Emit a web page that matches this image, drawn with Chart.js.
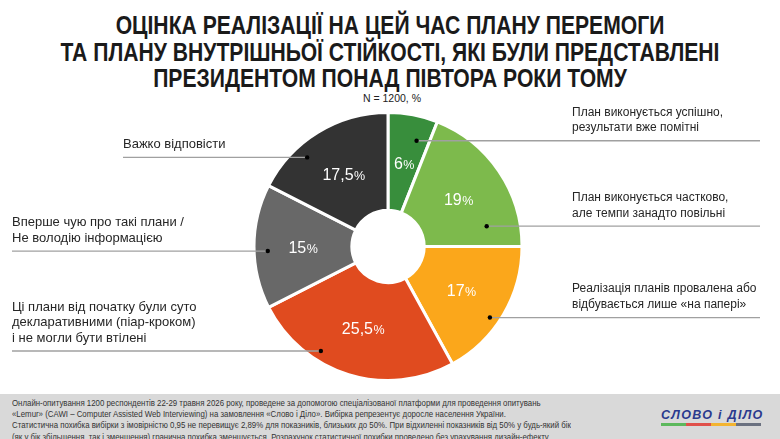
<!DOCTYPE html>
<html lang="uk">
<head>
    <meta charset="UTF-8">
    <title>Оцінка реалізації плану перемоги</title>
    <style>
        body {
            margin: 0;
            width: 780px;
            height: 439px;
            background: #fff;
            font-family: "Liberation Sans", Arial, sans-serif;
            position: relative;
            overflow: hidden;
        }
        .title {
            position: absolute;
            top: 12px;
            left: 0;
            width: 780px;
            text-align: center;
            font-weight: bold;
            font-size: 25px;
            line-height: 26.5px;
            color: #1a1a1a;
            white-space: nowrap;
            transform: scaleX(0.845);
            transform-origin: 390px 0;
        }
        .subtitle {
            position: absolute;
            top: 92px;
            left: 2px;
            width: 780px;
            text-align: center;
            font-size: 10.5px;
            color: #222;
        }
        #chartBox {
            position: absolute;
            top: 0;
            left: 0;
            width: 780px;
            height: 393px;
        }
        .footer {
            position: absolute;
            top: 394px;
            left: 0;
            width: 780px;
            height: 45px;
            background: #d9d9d9;
        }
        .footer .note {
            position: absolute;
            left: 12px;
            top: 4px;
            font-size: 9px;
            line-height: 11.2px;
            color: #333;
            white-space: nowrap;
            transform: scaleX(0.872);
            transform-origin: 0 0;
        }
        .logo {
            position: absolute;
            left: 661px;
            top: 15px;
            font-size: 12.5px;
            font-weight: bold;
            font-style: italic;
            color: #2a3a8e;
            letter-spacing: 1.3px;
            line-height: 12px;
            white-space: nowrap;
        }
        .logo-bars {
            position: absolute;
            left: 661px;
            top: 29px;
            display: flex;
        }
        .logo-bars span {
            width: 25px;
            height: 2.5px;
        }
    </style>
</head>
<body>
    <div class="title">ОЦІНКА РЕАЛІЗАЦІЇ НА ЦЕЙ ЧАС ПЛАНУ ПЕРЕМОГИ<br>ТА ПЛАНУ ВНУТРІШНЬОЇ СТІЙКОСТІ, ЯКІ БУЛИ ПРЕДСТАВЛЕНІ<br>ПРЕЗИДЕНТОМ ПОНАД ПІВТОРА РОКИ ТОМУ</div>
    <div class="subtitle">N = 1200, %</div>
    <div id="chartBox"><canvas id="pieChart"></canvas></div>
    <div class="footer">
        <div class="note">
            Онлайн-опитування 1200 респондентів 22-29 травня 2026 року, проведене за допомогою спеціалізованої платформи для проведення опитувань<br>
            «Lemur» (CAWI – Computer Assisted Web Interviewing) на замовлення «Слово і Діло». Вибірка репрезентує доросле населення України.<br>
            Статистична похибка вибірки з імовірністю 0,95 не перевищує 2,89% для показників, близьких до 50%. При відхиленні показників від 50% у будь-який бік<br>
            (як у бік збільшення, так і зменшення) гранична похибка зменшується. Розрахунок статистичної похибки проведено без урахування дизайн-ефекту.
        </div>
        <div class="logo">СЛОВО і ДІЛО</div>
        <div class="logo-bars">
            <span style="background:#5cb85c"></span>
            <span style="background:#e0504a"></span>
            <span style="background:#f3b431"></span>
            <span style="background:#6b7180"></span>
        </div>
    </div>

    <script src="https://cdn.jsdelivr.net/npm/chart.js"></script>
    <script>
        // data, clockwise from the top
        const categories = [
            ['План виконується успішно,', 'результати вже помітні'],
            ['План виконується частково,', 'але темпи занадто повільні'],
            ['Реалізація планів провалена або', 'відбувається лише «на папері»'],
            ['Ці плани від початку були суто', 'декларативними (піар-кроком)', 'і не могли бути втілені'],
            ['Вперше чую про такі плани /', 'Не володію інформацією'],
            ['Важко відповісти']
        ];
        const values = [6, 19, 17, 25.5, 15, 17.5];
        const colors = ['#388e3c', '#7dba4c', '#fba71b', '#e04b1f', '#686868', '#333333'];

        // where the leader dot sits inside each slice (fraction of angle, fraction of ring)
        // and where the label text goes
        const leaders = [
            { a: 0.70, r: 0.75, side: 'right', textX: 572, lineEnd: 760, size: 12 },
            { a: 0.83, r: 0.66, side: 'right', textX: 572, lineEnd: 760, size: 12 },
            { a: 0.57, r: 0.90, side: 'right', textX: 572, lineEnd: 760, size: 12 },
            { a: 0.67, r: 0.90, side: 'left', textX: 12, size: 13 },
            { a: 0.46, r: 0.86, side: 'left', textX: 12, size: 13 },
            { a: 0.33, r: 0.86, side: 'left', textX: 123, size: 13 }
        ];

        const labelPlugin = {
            id: 'labelPlugin',
            afterDatasetsDraw(chart) {
                const ctx = chart.ctx;
                const meta = chart.getDatasetMeta(0);
                meta.data.forEach((arc, i) => {
                    const p = arc.getProps(['x', 'y', 'startAngle', 'endAngle', 'innerRadius', 'outerRadius'], true);

                    // value inside the slice
                    const pos = arc.tooltipPosition(true);
                    const num = String(values[i]).replace('.', ',');
                    ctx.save();
                    ctx.fillStyle = '#fff';
                    ctx.textBaseline = 'alphabetic';
                    ctx.font = '16px "Liberation Sans", Arial, sans-serif';
                    const w1 = ctx.measureText(num).width;
                    ctx.font = '12.5px "Liberation Sans", Arial, sans-serif';
                    const w2 = ctx.measureText('%').width;
                    const x0 = pos.x - (w1 + w2) / 2;
                    ctx.font = '16px "Liberation Sans", Arial, sans-serif';
                    ctx.fillText(num, x0, pos.y + 6);
                    ctx.font = '12.5px "Liberation Sans", Arial, sans-serif';
                    ctx.fillText('%', x0 + w1 + 0.5, pos.y + 6);
                    ctx.restore();

                    // leader dot and line
                    const L = leaders[i];
                    const ang = p.startAngle + (p.endAngle - p.startAngle) * L.a;
                    const rad = p.innerRadius + (p.outerRadius - p.innerRadius) * L.r;
                    const dx = p.x + Math.cos(ang) * rad;
                    const dy = p.y + Math.sin(ang) * rad;

                    ctx.save();
                    ctx.strokeStyle = '#a0a0a0';
                    ctx.lineWidth = 1.3;
                    ctx.beginPath();
                    if (L.side === 'right') {
                        ctx.moveTo(dx, dy);
                        ctx.lineTo(L.lineEnd, dy);
                    } else {
                        ctx.moveTo(L.textX, dy);
                        ctx.lineTo(dx, dy);
                    }
                    ctx.stroke();
                    ctx.fillStyle = '#000';
                    ctx.beginPath();
                    ctx.arc(dx, dy, 2.2, 0, Math.PI * 2);
                    ctx.fill();

                    // category text above the line
                    const lines = categories[i];
                    ctx.fillStyle = '#262626';
                    ctx.font = L.size + 'px "Liberation Sans", Arial, sans-serif';
                    ctx.textBaseline = 'middle';
                    ctx.textAlign = 'left';
                    lines.forEach((t, k) => {
                        const ty = dy - 13 - (lines.length - 1 - k) * 15.5;
                        ctx.fillText(t, L.textX, ty);
                    });
                    ctx.restore();
                });
            }
        };

        const ctx = document.getElementById('pieChart').getContext('2d');
        const pieChart = new Chart(ctx, {
            type: 'doughnut',
            data: {
                labels: categories.map(c => c.join(' ')),
                datasets: [{
                    data: values,
                    backgroundColor: colors,
                    borderColor: '#ffffff',
                    borderWidth: 3,
                    hoverOffset: 0
                }]
            },
            options: {
                responsive: true,
                maintainAspectRatio: false,
                animation: false,
                cutout: '27%',
                layout: {
                    padding: { top: 111, bottom: 11, left: 252, right: 256 }
                },
                plugins: {
                    legend: { display: false },
                    tooltip: { enabled: false }
                }
            },
            plugins: [labelPlugin]
        });
    </script>
</body>
</html>
